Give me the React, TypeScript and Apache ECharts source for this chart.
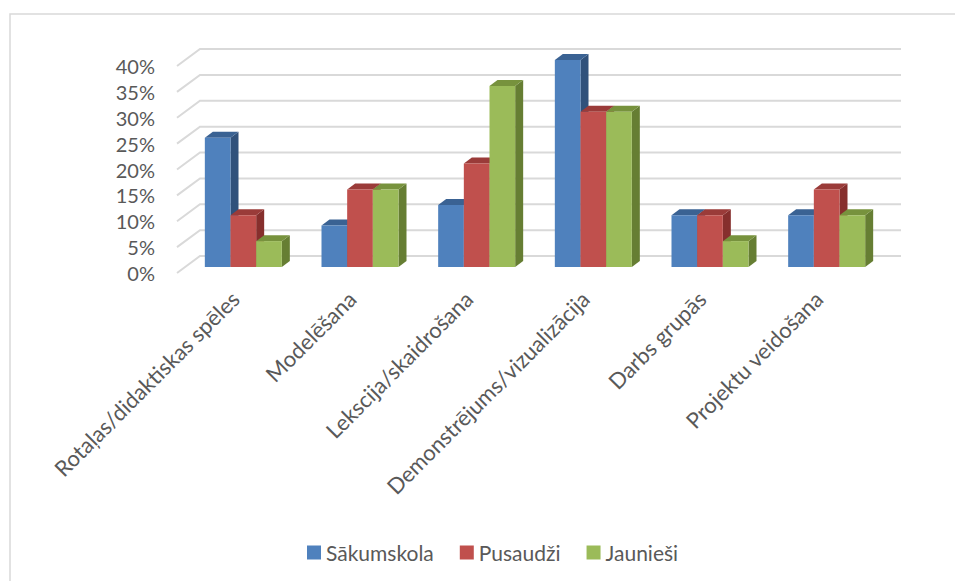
import React, { useEffect, useRef } from "react";
import * as echarts from "echarts";

const categories = [
  "Rotaļas/didaktiskas spēles",
  "Modelēšana",
  "Lekscija/skaidrošana",
  "Demonstrējums/vizualizācija",
  "Darbs grupās",
  "Projektu veidošana",
];
const seriesNames = ["Sākumskola", "Pusaudži", "Jaunieši"];
const sakumskola = [0.25, 0.08, 0.12, 0.4, 0.1, 0.1];
const pusaudzi = [0.1, 0.15, 0.2, 0.3, 0.1, 0.15];
const jauniesi = [0.05, 0.15, 0.35, 0.3, 0.05, 0.1];
const yTicks = [0, 0.05, 0.1, 0.15, 0.2, 0.25, 0.3, 0.35, 0.4];

const FRONT = ["#4F81BD", "#C0504D", "#9BBB59"];
const TOP = ["#3A6293", "#9A3B39", "#77923D"];
const SIDE = ["#30517B", "#862F2D", "#667E33"];

const WALL_DX = 23;
const WALL_DY = 17;
const BAR_OX = 8;
const BAR_OY = 6;
const BAR_DX = 8;
const BAR_DY = 6;
const FONT = "Lato, 'Open Sans', sans-serif";

export default function App() {
  const ref = useRef<HTMLDivElement>(null);
  useEffect(() => {
    if (!ref.current) return;
    const chart = echarts.init(ref.current, undefined, { renderer: "svg" });

    const barSeries = (idx: number, values: number[]) => ({
      type: "custom",
      name: seriesNames[idx],
      itemStyle: { color: FRONT[idx] },
      data: values.map((v, i) => [i, v]),
      encode: { x: 0, y: 1 },
      z: 3,
      renderItem: (params: any, api: any) => {
        const ci = api.value(0);
        const v = api.value(1);
        const base = api.coord([ci, 0]);
        const top = api.coord([ci, v]);
        const band = api.size([1, 0])[0];
        const groupW = band * 0.66;
        const bw = groupW / 3;
        const x0 = base[0] - groupW / 2 + idx * bw + BAR_OX;
        const yb = base[1] - BAR_OY;
        const yt = top[1] - BAR_OY;
        return {
          type: "group",
          children: [
            {
              type: "polygon",
              shape: {
                points: [
                  [x0 + bw, yt],
                  [x0 + bw + BAR_DX, yt - BAR_DY],
                  [x0 + bw + BAR_DX, yb - BAR_DY],
                  [x0 + bw, yb],
                ],
              },
              style: { fill: SIDE[idx] },
            },
            {
              type: "polygon",
              shape: {
                points: [
                  [x0, yt],
                  [x0 + BAR_DX, yt - BAR_DY],
                  [x0 + bw + BAR_DX, yt - BAR_DY],
                  [x0 + bw, yt],
                ],
              },
              style: { fill: TOP[idx] },
            },
            {
              type: "rect",
              shape: { x: x0, y: yt, width: bw, height: yb - yt },
              style: { fill: FRONT[idx] },
            },
          ],
        };
      },
    });

    chart.setOption({
      animation: false,
      backgroundColor: "#ffffff",
      graphic: [
        {
          type: "rect",
          shape: { x: 10, y: 14, width: 960, height: 600 },
          style: { fill: "none", stroke: "#d9d9d9", lineWidth: 1.5 },
          silent: true,
          z: -10,
        },
      ],
      grid: { left: 177, top: 66, width: 700, height: 207 },
      legend: {
        data: seriesNames,
        left: 302,
        top: 537,
        icon: "rect",
        itemWidth: 14,
        itemHeight: 14,
        itemGap: 26,
        textStyle: { color: "#595959", fontSize: 21, fontFamily: FONT, padding: [0, 0, 0, 0] },
      },
      xAxis: {
        type: "category",
        data: categories,
        axisLine: { show: false },
        axisTick: { show: false },
        splitLine: { show: false },
        axisLabel: {
          interval: 0,
          rotate: 45,
          margin: 22,
          color: "#595959",
          fontSize: 22,
          fontFamily: FONT,
        },
      },
      yAxis: {
        type: "value",
        min: 0,
        max: 0.4,
        interval: 0.05,
        axisLine: { show: false },
        axisTick: { show: false },
        splitLine: { show: false },
        axisLabel: {
          margin: 22,
          color: "#595959",
          fontSize: 20,
          fontFamily: FONT,
          formatter: (v: number) => Math.round(v * 100) + "%",
        },
      },
      series: [
        {
          type: "custom",
          name: "grid",
          silent: true,
          z: 1,
          data: yTicks.map((t) => [0, t]),
          encode: { x: 0, y: 1 },
          renderItem: (params: any, api: any) => {
            const cs = params.coordSys;
            const y = api.coord([0, api.value(1)])[1];
            const xl = cs.x;
            const xr = cs.x + cs.width;
            return {
              type: "polyline",
              shape: {
                points: [
                  [xl, y],
                  [xl + WALL_DX, y - WALL_DY],
                  [xr + WALL_DX + 1, y - WALL_DY],
                ],
              },
              style: { stroke: "#d9d9d9", lineWidth: 2, fill: "none" },
            };
          },
        },
        barSeries(0, sakumskola),
        barSeries(1, pusaudzi),
        barSeries(2, jauniesi),
      ],
    });
    return () => chart.dispose();
  }, []);
  return (
    <div
      ref={ref}
      style={{ position: "absolute", left: 0, top: 0, width: 955, height: 581 }}
    />
  );
}
